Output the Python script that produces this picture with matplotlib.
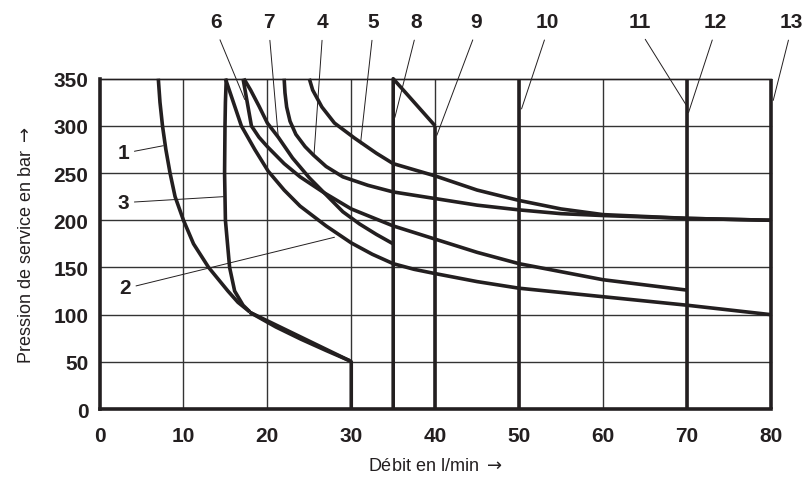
import matplotlib.pyplot as plt

# Courbes (débit en l/min, pression en bar)
c1_x = [7.0, 7.2, 7.5, 7.9, 8.4, 9.0, 10.0, 11.2, 13.0, 15.3, 16.5, 17.9]
c1_p = [350, 325, 300, 275, 250, 225, 200, 175, 150, 125, 113, 103]
c1b_x = [17.9, 29.8]
c1b_p = [102.5, 51.2]
c3_x = [15.1, 15.0, 14.95, 14.9, 15.0, 15.5, 16.1, 17.1, 17.9]
c3_p = [350, 325, 300, 250, 200, 150, 125, 110, 103]
c3b_x = [17.9, 21.0, 24.0, 27.0, 29.8, 30.0, 30.0]
c3b_p = [102.5, 87, 74, 62, 51.2, 50, 0]
c2_x = [15.0, 16.9, 18.5, 20.1, 22.0, 23.9, 27.0, 30.0, 32.5, 35.0, 37.5, 40.0, 45.0, 50.0, 60.0, 70.0, 80.0]
c2_p = [350, 300, 275, 252, 232, 215, 194, 176, 164, 154, 148, 143.5, 135, 128, 119, 110, 100]
c6_x = [17.1, 18.1, 19.0, 20.0, 22.0, 23.9, 26.7, 30.0, 35.0, 40.0, 45.0, 50.0, 60.0, 70.0]
c6_p = [350, 300, 288, 278, 260, 246, 229.5, 212, 194, 180, 166, 154, 137, 126]
c7_x = [17.2, 18.0, 19.0, 20.0, 21.3, 23.0, 25.0, 27.0, 29.0, 31.0, 33.0, 35.0]
c7_p = [350, 338, 321, 303, 288, 266, 245, 227, 209, 196, 185, 175]
c4_x = [22.0, 22.1, 22.3, 22.7, 23.4, 24.5, 25.5, 27.0, 29.0, 32.0, 35.0, 40.0, 45.0, 50.0, 55.0, 60.0, 70.0, 80.0]
c4_p = [350, 335, 320, 305, 291, 278, 269, 257, 246, 237, 230, 223, 216, 211, 207, 205, 202, 200]
c5_x = [25.0, 25.4, 26.5, 28.0, 30.4, 33.0, 35.0, 40.0, 45.0, 50.0, 55.0, 60.0, 70.0, 80.0]
c5_p = [350, 338, 320, 303, 287, 271, 260, 247, 232, 221, 212, 206, 202, 200]
c8_x = [35, 35, 40]
c8_p = [0, 350, 300]
c9_x = [40, 40]
c9_p = [300, 0]
verticales = [50, 70, 80]   # courbes 10, 11/12, 13

courbes = [(c1_x, c1_p), (c1b_x, c1b_p), (c3_x, c3_p), (c3b_x, c3b_p),
           (c2_x, c2_p), (c6_x, c6_p), (c7_x, c7_p), (c4_x, c4_p),
           (c5_x, c5_p), (c8_x, c8_p), (c9_x, c9_p)]

# Repères: texte (x, p) et point visé sur la courbe
reperes_haut = {
    '6': (13.9, 17.3, 328), '7': (20.2, 21.3, 288), '4': (26.6, 25.55, 268),
    '5': (32.6, 31.1, 281), '8': (37.8, 35.2, 309), '9': (44.9, 40.2, 290),
    '10': (53.4, 50.3, 318), '11': (64.4, 70.0, 321), '12': (73.4, 70.2, 314),
    '13': (82.4, 80.3, 327),
}
reperes_gauche = {
    '1': (2.8, 272, 7.6, 279), '3': (2.8, 219, 14.75, 225),
    '2': (3.0, 129, 28.0, 182),
}

noir = '#231f20'
police_gras = ['Liberation Sans', 'DejaVu Sans']
police = ['Liberation Sans', 'DejaVu Sans']

fig = plt.figure(figsize=(8.05, 4.81), dpi=100)
ax = fig.add_axes([0.1237, 0.1476, 0.8337, 0.6867])
ax.set_xlim(0, 80)
ax.set_ylim(0, 350)

# Quadrillage
for gx in range(10, 80, 10):
    ax.axvline(gx, color='#333333', lw=1.0, zorder=1)
for gy in range(50, 351, 50):
    ax.axhline(gy, color='#333333', lw=1.0, zorder=1, clip_on=False)

for xs, ps in courbes:
    ax.plot(xs, ps, color=noir, lw=2.6, solid_capstyle='butt', zorder=3, clip_on=False)
for vx in verticales:
    ax.plot([vx, vx], [0, 350], color=noir, lw=2.6, solid_capstyle='butt', zorder=3, clip_on=False)

for lab, (tx, ex, ep) in reperes_haut.items():
    ax.annotate(lab, xy=(ex, ep), xytext=(tx, 411), textcoords='data',
                ha='center', va='center', fontsize=15, fontweight='bold',
                family=police_gras, color=noir, annotation_clip=False,
                arrowprops=dict(arrowstyle='-', lw=0.7, color=noir,
                                shrinkA=5, shrinkB=0, relpos=(0.5, 0)))
for lab, (tx, tp, ex, ep) in reperes_gauche.items():
    ax.annotate(lab, xy=(ex, ep), xytext=(tx, tp), textcoords='data',
                ha='center', va='center', fontsize=15, fontweight='bold',
                family=police_gras, color=noir, annotation_clip=False,
                arrowprops=dict(arrowstyle='-', lw=0.7, color=noir,
                                shrinkA=2, shrinkB=0, relpos=(1, 0.5)))

ax.spines['right'].set_visible(False)
ax.spines['top'].set_linewidth(1.0)
ax.spines['left'].set_linewidth(2.6)
ax.spines['bottom'].set_linewidth(2.6)
for s in ax.spines.values():
    s.set_color(noir)

ax.set_xticks(range(0, 81, 10))
ax.set_yticks(range(0, 351, 50))
ax.tick_params(axis='both', length=0, labelsize=15, colors=noir)
ax.tick_params(axis='y', pad=8)
ax.tick_params(axis='x', pad=12)
for t in ax.get_xticklabels() + ax.get_yticklabels():
    t.set_fontweight('bold')
    t.set_family(police_gras)

ax.set_xlabel(r'Débit en l/min $\rightarrow$', fontsize=13, family=police, color=noir, labelpad=9)
ax.set_ylabel(r'Pression de service en bar $\rightarrow$', fontsize=13, family=police, color=noir, labelpad=13)

fig.savefig('out.png', dpi=100)
